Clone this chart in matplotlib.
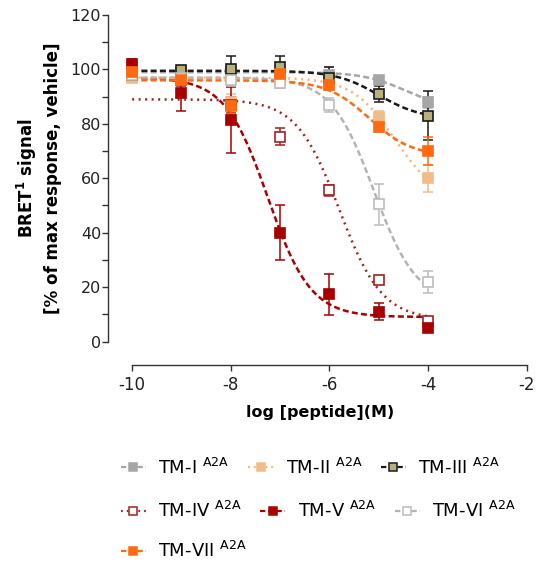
import numpy as np
import matplotlib
matplotlib.use('Agg')
import matplotlib.pyplot as plt
from matplotlib.lines import Line2D
from matplotlib.ticker import MultipleLocator

# Data
log_conc = [-10, -9, -8, -7, -6, -5, -4]
names = ['TM-I', 'TM-II', 'TM-III', 'TM-IV', 'TM-V', 'TM-VI', 'TM-VII']

tm1 = [101, 99, 99, 99, 98, 96, 88]
tm2 = [97, 96, 88, 96, 95, 82.6, 60]
tm3 = [98, 99.8, 100, 101, 97, 91, 83]
tm4 = [98, 96, 87, 75.3, 55.5, 22.7, 7.7]
tm5 = [102, 91.2, 81.4, 40, 17.3, 11, 5]
tm6 = [98, 97, 96, 95, 87, 50.5, 22]
tm7 = [99, 96, 86.5, 98.3, 94.3, 79, 70]

err1 = [3, 1, 2, 1, 3, 1.5, 2]
err2 = [1, 1, 3, 1, 2, 2, 5]
err3 = [2, 1, 5, 4, 4, 3, 9]
err4 = [1, 2, 3, 3, 2, 1.5, 1]
err5 = [2, 6.5, 12, 10, 7.5, 3, 1]
err6 = [1, 1, 2, 2, 2.5, 7.5, 4]
err7 = [1, 1, 3, 2, 2, 2, 5]

# fitted dose-response parameters (top, bottom, logIC50), Hill slope 1
fit_top = [99, 97, 99.5, 89, 97, 97, 96]
fit_bottom = [85.5, 51.5, 81.7, 8, 9, 14, 68]
fit_logic50 = [-4.46, -4.67, -5.0, -5.8, -7.25, -5.1, -5.19]

means = [tm1, tm2, tm3, tm4, tm5, tm6, tm7]
errs = [err1, err2, err3, err4, err5, err6, err7]

# style per series: line colour, marker face, marker edge, linestyle
line_col = ['#a6a6a6', '#f2b47c', '#1a1a1a', '#a52020', '#a80000', '#b4b4b4', '#ff6a10']
face_col = ['#a6a6a6', '#f2bc88', '#b8b07c', 'white', '#a80000', 'white', '#ff6a10']
edge_col = ['#a6a6a6', '#f2bc88', '#1a1a1a', '#a52020', '#a80000', '#bcbcbc', '#ff6a10']
err_col = ['#a6a6a6', '#f2bc88', '#1a1a1a', '#a52020', '#a80000', '#bcbcbc', '#ff6a10']
dashed = (0, (2.4, 1.3))
dotted = (0, (0.8, 1.8))
styles = [dashed, dotted, dashed, dotted, dashed, dashed, dashed]

plt.rcParams['font.family'] = 'DejaVu Sans'
plt.rcParams['axes.unicode_minus'] = False

fig = plt.figure(figsize=(5.38, 5.64), dpi=100)
ax = fig.add_axes([0.2007, 0.3945, 0.7874, 0.5789])

xs = np.linspace(-10, -4, 300)
handles = []
for i in range(7):
    curve = fit_bottom[i] + (fit_top[i] - fit_bottom[i]) / (1 + 10 ** (xs - fit_logic50[i]))
    ax.plot(xs, curve, color=line_col[i], lw=1.8, linestyle=styles[i], zorder=2)
    ax.errorbar(log_conc, means[i], yerr=errs[i], fmt='none', ecolor=err_col[i],
                elinewidth=1.1, capsize=3.5, capthick=1.1, zorder=3, clip_on=False)
    ax.plot(log_conc, means[i], linestyle='none', marker='s', ms=7,
            mfc=face_col[i], mec=edge_col[i], mew=1.2, zorder=4, clip_on=False)
    handles.append(Line2D([], [], color=line_col[i], lw=1.6, linestyle=styles[i],
                          marker='s', ms=5.5, mfc=face_col[i], mec=edge_col[i], mew=1.1))

ax.set_xlim(-10.49, -1.9)
ax.set_ylim(0, 120)
ax.spines['top'].set_visible(False)
ax.spines['right'].set_visible(False)
ax.spines['bottom'].set_position(('outward', 17))
ax.spines['bottom'].set_bounds(-10, -2)
ax.spines['left'].set_bounds(0, 120)
for s in ['left', 'bottom']:
    ax.spines[s].set_color('#333333')
    ax.spines[s].set_linewidth(1.0)

ax.set_xticks([-10, -8, -6, -4, -2])
ax.yaxis.set_major_locator(MultipleLocator(20))
ax.yaxis.set_minor_locator(MultipleLocator(10))
ax.tick_params(axis='y', which='both', length=4, width=1, color='#333333',
               labelsize=11.5, labelcolor='#222222', pad=1)
ax.tick_params(axis='x', length=4, width=1, color='#333333',
               labelsize=12, labelcolor='#222222', pad=4)

ax.set_xlabel('log [peptide](M)', fontsize=11.5, fontweight='bold', labelpad=8)
ax.set_ylabel('BRET$^\\mathbf{1}$ signal\n[% of max response, vehicle]',
              fontsize=12, fontweight='bold', linespacing=1.35, labelpad=6)

# legend laid out row by row like the original
labels = [n + ' $^{\\mathrm{A2A}}$' for n in names]
rows = [[0, 1, 2], [3, 4, 5], [6]]
row_tops = [0.189, 0.112, 0.041]
for r, idx in enumerate(rows):
    leg = fig.legend([handles[k] for k in idx], [labels[k] for k in idx],
                     loc='upper left', bbox_to_anchor=(0.224, row_tops[r]),
                     ncol=len(idx), frameon=False, fontsize=13,
                     handlelength=1.4, handletextpad=0.7, columnspacing=1.0,
                     borderpad=0, borderaxespad=0)

fig.savefig('out.png', dpi=100)
